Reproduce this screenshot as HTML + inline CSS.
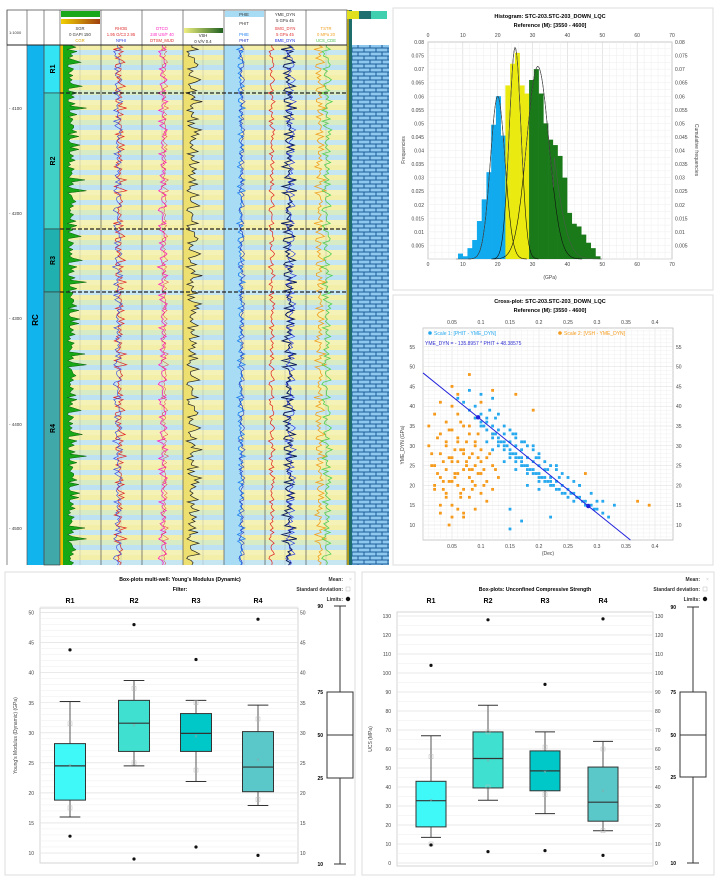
<!DOCTYPE html>
<html><head><meta charset="utf-8">
<style>
html,body{margin:0;padding:0;background:#fff;}
svg{display:block;font-family:"Liberation Sans",sans-serif;}
</style></head>
<body>
<svg id="root" width="720" height="877" viewBox="0 0 720 877" xmlns="http://www.w3.org/2000/svg">
<defs>
<pattern id="brick" width="12" height="8" patternUnits="userSpaceOnUse">
<rect width="12" height="8" fill="#8ec8ee"/>
<path d="M0 0H12M0 4H12M0 8H12M4 0V4M10 4V8" stroke="#1d5c9a" stroke-width="1" fill="none"/>
</pattern>
<linearGradient id="grBar" x1="0" x2="1"><stop offset="0" stop-color="#f0d000"/><stop offset="1" stop-color="#a04010"/></linearGradient>
<linearGradient id="vshBar" x1="0" x2="1"><stop offset="0" stop-color="#f0f080"/><stop offset="1" stop-color="#206020"/></linearGradient>
</defs>
<g id="log"></g>
<g id="hist"></g>
<g id="xplot"></g>
<g id="boxL"></g>
<g id="boxR"></g>
</svg>
<script>
// ---------- data ----------
const histBlueStart = 8.6, histBinW = 1.36;
const histBlue = [0.002,0.001,0.004,0.007,0.014,0.022,0.032,0.0495,0.06,0.0455];
const histYellow = [0.064,0.072,0.076,0.064,0.061];
const histGreen = [0.066,0.07,0.061,0.05,0.044,0.042,0.038,0.03,0.017,0.013,0.012,0.009,0.006,0.004,0.001];
const fitMeans = [20,25,31.5];
const fitSds = [2.1,1.7,3.2];
const fitPeaks = [0.06,0.078,0.071];
const histXTicks = [0,10,20,30,40,50,60,70];
const histYTicks = [0.005,0.01,0.015,0.02,0.025,0.03,0.035,0.04,0.045,0.05,0.055,0.06,0.065,0.07,0.075,0.08];

const scatBlueX = [0.06,0.07,0.08,0.09,0.09,0.1,0.1,0.1,0.11,0.11,0.11,0.12,0.12,0.12,0.13,0.13,0.13,0.13,0.14,0.14,0.14,0.14,0.15,0.15,0.15,0.15,0.16,0.16,0.16,0.16,0.17,0.17,0.17,0.17,0.18,0.18,0.18,0.18,0.19,0.19,0.19,0.2,0.2,0.2,0.2,0.21,0.21,0.21,0.22,0.22,0.22,0.23,0.23,0.24,0.24,0.25,0.25,0.26,0.26,0.27,0.28,0.28,0.29,0.3,0.31,0.32,0.33,0.12,0.1,0.08,0.15,0.17,0.15,0.22,0.2,0.19,0.13,0.14,0.16,0.12,0.11,0.23,0.25,0.27,0.3,0.105,0.125,0.135,0.145,0.155,0.165,0.175,0.185,0.195,0.205,0.215,0.225,0.235,0.245,0.255,0.265,0.275,0.285,0.295,0.115,0.125,0.14,0.15,0.16,0.17,0.18,0.19,0.2,0.21,0.22,0.23,0.24,0.26,0.27,0.29,0.31,0.155,0.175,0.195,0.215,0.235,0.18,0.2,0.16];
const scatBlueY = [42,41,39,40,37,38,36,35,37,34,36,35,33,32,34,32,31,30,33,31,29,30,31,29,28,27,30,28,27,26,29,27,26,25,27,25,24,23,26,24,23,25,23,22,21,24,22,21,22,20,21,21,19,20,18,19,17,18,16,17,16,15,15,14,13,12,15,42,43,44,14,11,9,12,19,30,38,26,32,29,31,25,22,20,16,35,33,31,30,28,27,25,24,23,22,21,20,19,18,18,17,16,15,14,39,37,35,34,33,31,30,29,28,26,25,24,23,21,20,18,16,33,31,27,24,22,20,27,24];
const scatOrangeX = [0.01,0.02,0.02,0.03,0.03,0.03,0.04,0.04,0.04,0.04,0.05,0.05,0.05,0.05,0.05,0.06,0.06,0.06,0.06,0.06,0.07,0.07,0.07,0.07,0.07,0.08,0.08,0.08,0.08,0.09,0.09,0.09,0.1,0.1,0.1,0.11,0.11,0.12,0.12,0.13,0.01,0.02,0.03,0.04,0.05,0.06,0.07,0.08,0.09,0.1,0.015,0.025,0.035,0.045,0.055,0.065,0.075,0.085,0.095,0.105,0.03,0.05,0.07,0.09,0.11,0.04,0.06,0.08,0.1,0.12,0.16,0.19,0.37,0.39,0.28,0.02,0.05,0.08,0.03,0.06,0.09,0.12,0.045,0.065,0.085,0.025,0.035,0.045,0.055,0.065,0.075,0.085,0.095,0.035,0.055,0.075,0.095,0.015,0.045,0.065,0.085,0.105,0.115,0.125];
const scatOrangeY = [30,25,20,33,28,22,36,30,24,18,40,34,27,21,15,38,31,26,20,14,35,29,24,19,13,33,27,22,17,31,25,20,29,23,18,27,21,25,19,22,35,38,41,31,26,32,28,24,30,26,28,23,19,27,22,29,25,21,33,24,15,12,12,14,16,17,23,35,41,44,43,39,16,15,23,19,45,48,13,43,37,33,10,17,24,32,26,34,29,36,31,28,27,21,23,26,23,25,21,18,19,20,28,24,22];
const regSlopeVis = -118, regIntercept = 48.4;
const xpXTicks = [0.05,0.1,0.15,0.2,0.25,0.3,0.35,0.4];
const xpYTicks = [10,15,20,25,30,35,40,45,50,55];

const zoneNames = ["R1","R2","R3","R4"];
const ymeWhiskLo = [16,24.5,21.9,17.9], ymeQ1 = [18.8,26.9,26.9,20.2], ymeMed = [24.5,31.6,29.9,24.3], ymeQ3 = [28.2,35.4,33.2,30.2], ymeWhiskHi = [35.2,38.7,35.4,34.6];
const ymeOutHi = [43.8,48,42.2,48.9], ymeOutLo = [12.8,9,11,9.6], ymeMean = [24.6,31.2,29.4,25.5], ymeSdHi = [31.5,37.4,35,32.3], ymeSdLo = [17.5,25,23.8,18.9];
const ucsWhiskLo = [13.5,33,26,17], ucsQ1 = [19,39.5,38,22], ucsMed = [32.8,55,48.5,32], ucsQ3 = [43,69,59,50.5], ucsWhiskHi = [67,83,69,64];
const ucsOutHi = [104,128,94,128.5], ucsOutLo = [9.5,6,6.5,4], ucsMean = [33,54,48,38], ucsSdHi = [56,69,61,60], ucsSdLo = [10,40,36,17];
const boxColors = ["#3ff8f8","#40e0d0","#00c8c8","#5ac8c8"];

const logA = [.3,.5,.2,.6,.4,.7,.3,.5,.8,.4,.2,.6,.5,.3,.7,.4,.6,.2,.5,.9,.4,.3,.6,.5,.7,.2,.4,.6,.3,.8,.5,.4,.6,.2,.5,.7,.3,.6,.4,.5,.8,.3,.6,.4,.2,.5,.7,.4,.6,.3,.5,.8,.4,.6,.3,.5,.2,.7,.4,.6,.5,.3,.7,.4,.6,.2,.5,.8,.3,.6,.4,.5,.7,.3,.6,.4,.5,.2,.6,.4];
const logB = [.6,.4,.7,.3,.5,.2,.6,.8,.4,.5,.7,.3,.6,.4,.2,.5,.8,.6,.3,.5,.4,.7,.2,.6,.5,.3,.8,.4,.5,.6,.3,.7,.4,.5,.9,.3,.6,.2,.5,.7,.4,.6,.3,.8,.5,.4,.6,.3,.5,.7,.2,.6,.4,.5,.8,.3,.6,.5,.4,.7,.3,.5,.6,.2,.7,.4,.5,.3,.6,.8,.4,.5,.3,.6,.7,.4,.2,.5,.6,.4];
const zoneTops = [45,93,229,292], zoneBottoms = [93,229,292,565];
const zoneColors = ["#33e4f4","#40d0c8","#20b0b0","#40a8a8"];
const depthLabels = ["4100","4200","4300","4400","4500"];
const depthYs = [108,213,318,424,528];

// ---------- helpers ----------
const NS="http://www.w3.org/2000/svg";
function mk(parent,tag,attrs,text){const e=document.createElementNS(NS,tag);for(const k in attrs)e.setAttribute(k,attrs[k]);if(text!==undefined)e.textContent=text;parent.appendChild(e);return e;}

// ---------- well log ----------
(function(){
const g=document.getElementById('log');
const top=45,bot=565;
const hdr=mk(g,'rect',{x:7,y:10,width:340,height:35,fill:'#fff',stroke:'#555','stroke-width':0.8});


mk(g,'text',{x:9,y:34,'font-size':4,fill:'#333'},'1:1000');
const stripeCols=['#f3efa8','#c6e6f2','#f3efa8','#d6ebc6','#bfe2f2','#f5f2b8'];
for(let y=top,i=0;y<bot;y+=5,i++){
  const s=mk(g,'rect',{x:60,y:y,width:287,height:5,fill:stripeCols[i%stripeCols.length]});
  
  
}
mk(g,'rect',{x:7,y:top,width:21,height:bot-top,fill:'#fff'});
depthLabels.forEach((d,i)=>{
  const t=mk(g,'text',{x:9,y:depthYs[i]+2,'font-size':4.5,fill:'#333'},'- '+d);
  
  
});
const rc=mk(g,'rect',{x:27,y:top,width:17,height:bot-top,fill:'#12b4ee'});


mk(g,'text',{x:0,y:0,'font-size':8,'font-weight':'bold',transform:'translate(38,320) rotate(-90)','text-anchor':'middle'},'RC');
zoneNames.forEach((z,i)=>{
  const r=mk(g,'rect',{x:44,y:zoneTops[i],width:16,height:zoneBottoms[i]-zoneTops[i],fill:zoneColors[i],stroke:'#333','stroke-width':0.6});
  
  
  const cy=(zoneTops[i]+zoneBottoms[i])/2;
  mk(g,'text',{x:0,y:0,'font-size':7,'font-weight':'bold',transform:`translate(55,${cy}) rotate(-90)`,'text-anchor':'middle'},z);
});
// build dense sequences from the two arrays
const N=logA.length*3;
const sA=i=>logA[i%logA.length]*0.6+logB[(i*7)%logB.length]*0.4;
const sB=i=>logB[i%logB.length]*0.6+logA[(i*11)%logA.length]*0.4;
const step=(bot-top)/(N-1);
const Y=i=>top+i*step;
function poly(fx,color,w,name){
  let pts=[];for(let i=0;i<N;i++)pts.push(fx(i).toFixed(1)+','+Y(i).toFixed(1));
  const p=mk(g,'polyline',{points:pts.join(' '),fill:'none',stroke:color,'stroke-width':w});
  
  
}
function fill(x0,fx,color,name){
  let pts=[x0+','+top];for(let i=0;i<N;i++)pts.push(fx(i).toFixed(1)+','+Y(i).toFixed(1));pts.push(x0+','+bot);
  const p=mk(g,'polygon',{points:pts.join(' '),fill:color});
  
  
}
// GR
mk(g,'rect',{x:60,y:top,width:4,height:bot-top,fill:'#e8c000'});
const grx=i=>{const v=sA(i);return 64+v*v*v*38+3;};
fill(63,grx,'#16a816','gr-fill');
poly(grx,'#0a5a0a',0.5,'gr-curve');
// RHOB
poly(i=>120+(sA(i)-.5)*22,'#e02020',0.7,'rhob-curve');
poly(i=>118+(sB(i)-.5)*18,'#3040e0',0.6,'nphi-curve');
// DT
poly(i=>163+(sB(i)-.5)*18,'#ff20c0',0.8,'dtco-curve');
poly(i=>165+(sA(i)-.5)*12,'#e03030',0.5,'dtsm-curve');
// VSH
const vx=i=>185+sB(i)*sB(i)*30;
fill(183,vx,'#eee070','vsh-fill');
poly(vx,'#222',0.7,'vsh-curve');
// PHIE
mk(g,'rect',{x:224,y:top,width:16,height:bot-top,fill:'#a8dcf4'});
fill(224,i=>234+sA(i)*14,'#a8dcf4','phie-fill');
poly(i=>234+sA(i)*14,'#2080f0',0.8,'phie-curve');
poly(i=>236+sB(i)*12,'#2030c0',0.6,'phit-curve');
// YME
poly(i=>272+(sB(i)-.5)*12,'#e02020',0.7,'smg-curve');
poly(i=>289+(sA(i)-.5)*26,'#0a1a5a',1,'yme-curve');
poly(i=>291+(sB(i)-.5)*20,'#2030e0',0.6,'bme-curve');
// TSTR / UCS
poly(i=>320+(sA(i)-.5)*20,'#f0a020',0.8,'tstr-curve');
poly(i=>327+(sB(i)-.5)*20,'#50d050',0.8,'ucs-curve');
[7,27,44,60,101,142,183,224,265,306,347].forEach(x=>{
  mk(g,'line',{x1:x,y1:10,x2:x,y2:bot,stroke:'#555','stroke-width':0.7});
});
[80,121,162,203,244,285,326].forEach(x=>mk(g,'line',{x1:x,y1:top,x2:x,y2:bot,stroke:'#999','stroke-width':0.3}));
mk(g,'line',{x1:7,y1:top,x2:352,y2:top,stroke:'#222','stroke-width':1});
[93,229,292].forEach(y=>mk(g,'line',{x1:60,y1:y,x2:390,y2:y,stroke:'#222','stroke-width':1.2,'stroke-dasharray':'4,2'}));
mk(g,'rect',{x:347,y:10,width:5,height:bot-10,fill:'#a89a20'});
mk(g,'rect',{x:349,y:10,width:3,height:bot-10,fill:'#1e6e6e'});
const br=mk(g,'rect',{x:352,y:45,width:37,height:bot-45,fill:'url(#brick)'});


mk(g,'rect',{x:61,y:11,width:39,height:6,fill:'#1aa81a'});
mk(g,'rect',{x:61,y:19,width:39,height:5,fill:'url(#grBar)'});
mk(g,'rect',{x:184,y:28,width:39,height:5,fill:'url(#vshBar)'});
mk(g,'rect',{x:225,y:11,width:39,height:6,fill:'#a8dcf4'});
mk(g,'rect',{x:347,y:11,width:12,height:8,fill:'#e0e020'});
mk(g,'rect',{x:359,y:11,width:12,height:8,fill:'#1e7070'});
mk(g,'rect',{x:371,y:11,width:16,height:8,fill:'#40d0b0'});
const hl=[[80,30,'SGR','#333'],[80,36,'0 GAPI 150','#333'],[80,42,'CGR','#e0a000'],[121,30,'RHOB','#e03030'],[121,36,'1.95 G/C3 2.95','#e03030'],[121,42,'NPHI','#3040e0'],[162,30,'DTCO','#ff20c0'],[162,36,'240 US/F 40','#ff20c0'],[162,42,'DTSM_MUD','#e03030'],[203,37,'VSH','#222'],[203,43,'0 V/V 0.4','#222'],[244,16,'PHIE','#333'],[244,25,'PHIT','#333'],[244,36,'PHIE','#2080f0'],[244,42,'PHIT','#2030c0'],[285,16,'YME_DYN','#333'],[285,22,'5 GPa 45','#333'],[285,30,'SMG_DYN','#e03030'],[285,36,'5 GPa 45','#e03030'],[285,42,'BME_DYN','#2030e0'],[326,30,'TSTR','#f0a020'],[326,36,'0 MPa 20','#f0a020'],[326,42,'UCS_CDE','#50c050']];
hl.forEach(h=>{const t=mk(g,'text',{x:h[0],y:h[1],'font-size':4.2,fill:h[3],'text-anchor':'middle'},h[2]);
 
 });
})();

function frame(g,x,y,w,h){mk(g,'rect',{x:x,y:y,width:w,height:h,fill:'#fff',stroke:'#ddd','stroke-width':1});}

// ---------- histogram ----------
(function(){
const g=document.getElementById('hist');
frame(g,393,8,320,282);
const L=428,R=672,T=42,B=259;
const hx=v=>L+v*(R-L)/70, hy=f=>B-f*(B-T)/0.08;
mk(g,'rect',{x:L,y:T,width:R-L,height:B-T,fill:'#fff',stroke:'#bbb','stroke-width':0.8});
for(let v=0;v<=70;v+=2)mk(g,'line',{x1:hx(v),y1:T,x2:hx(v),y2:B,stroke:v%10?'#eee':'#ccc','stroke-width':0.5});
for(let f=0;f<=0.08;f+=0.0025)mk(g,'line',{x1:L,y1:hy(f),x2:R,y2:hy(f),stroke:'#eee','stroke-width':0.5});
histXTicks.forEach(v=>{
 mk(g,'text',{x:hx(v),y:37,'font-size':5,'text-anchor':'middle',fill:'#444'},v);
 mk(g,'text',{x:hx(v),y:266,'font-size':5,'text-anchor':'middle',fill:'#444'},v);
});
histYTicks.forEach(f=>{
 mk(g,'text',{x:L-4,y:hy(f)+2,'font-size':5,'text-anchor':'end',fill:'#444'},String(f));
 mk(g,'text',{x:R+3,y:hy(f)+2,'font-size':5,fill:'#444'},String(f));
});
function bars(arr,start,color,name){
 arr.forEach((f,i)=>{const x0=hx(start+i*histBinW),x1=hx(start+(i+1)*histBinW);
  const r=mk(g,'rect',{x:x0,y:hy(f),width:x1-x0+0.3,height:B-hy(f),fill:color});
  
  });
}
const yStart=histBlueStart+histBlue.length*histBinW;
const gStart=yStart+histYellow.length*histBinW;
bars(histBlue,histBlueStart,'#12aaee','hist-bar-blue');
bars(histYellow,yStart,'#eaea10','hist-bar-yellow');
bars(histGreen,gStart,'#1a7a1a','hist-bar-green');
const gauss=(k,v)=>fitPeaks[k]*Math.exp(-Math.pow(v-fitMeans[k],2)/(2*fitSds[k]*fitSds[k]));
for(let k=0;k<3;k++){let p=[];for(let v=fitMeans[k]-4*fitSds[k];v<=fitMeans[k]+4*fitSds[k];v+=0.25)p.push(hx(v).toFixed(1)+','+hy(gauss(k,v)).toFixed(1));
 const c=mk(g,'polyline',{points:p.join(' '),fill:'none',stroke:'#111','stroke-width':0.6});
 
 }
let p=[];for(let v=8;v<=50;v+=0.25){p.push(hx(v).toFixed(1)+','+hy(Math.max(gauss(0,v),gauss(1,v),gauss(2,v),v>36?0.071*Math.exp(-(v-31.5)*(v-31.5)/(2*4.2*4.2)):0)).toFixed(1));}
mk(g,'polyline',{points:p.join(' '),fill:'none',stroke:'#555','stroke-width':0.5});
mk(g,'text',{x:550,y:18,'font-size':5.5,'font-weight':'bold','text-anchor':'middle'},'Histogram: STC-203.STC-203_DOWN_LQC');
mk(g,'text',{x:550,y:27,'font-size':5.5,'font-weight':'bold','text-anchor':'middle'},'Reference (M): [3550 - 4600]');
mk(g,'text',{x:550,y:279,'font-size':5,'text-anchor':'middle',fill:'#444'},'(GPa)');
mk(g,'text',{x:0,y:0,'font-size':5,transform:'translate(405,150) rotate(-90)','text-anchor':'middle',fill:'#444'},'Frequencies');
mk(g,'text',{x:0,y:0,'font-size':5,transform:'translate(695,150) rotate(90)','text-anchor':'middle',fill:'#444'},'Cumulative frequencies');
})();

// ---------- crossplot ----------
(function(){
const g=document.getElementById('xplot');
frame(g,393,295,320,270);
const L=423,R=673,T=328,B=540;
const cx=v=>L+v*580, cy=v=>525-(v-10)*3.96;
mk(g,'rect',{x:L,y:T,width:R-L,height:B-T,fill:'#fff',stroke:'#bbb','stroke-width':0.8});
for(let v=0;v<=0.43;v+=0.01)mk(g,'line',{x1:cx(v),y1:T,x2:cx(v),y2:B,stroke:Math.round(v*100)%5?'#f0f0f0':'#ddd','stroke-width':0.5});
for(let v=7;v<=59;v+=1)mk(g,'line',{x1:L,y1:cy(v),x2:R,y2:cy(v),stroke:v%5?'#f0f0f0':'#ddd','stroke-width':0.5});
xpXTicks.forEach(v=>{mk(g,'text',{x:cx(v),y:324,'font-size':5,'text-anchor':'middle',fill:'#444'},v);
 mk(g,'text',{x:cx(v),y:548,'font-size':5,'text-anchor':'middle',fill:'#444'},v);});
xpYTicks.forEach(v=>{mk(g,'text',{x:L-8,y:cy(v)+2,'font-size':5,'text-anchor':'end',fill:'#444'},v);
 mk(g,'text',{x:R+3,y:cy(v)+2,'font-size':5,fill:'#444'},v);});
scatOrangeX.forEach((x,i)=>{const r=mk(g,'rect',{x:cx(x)-1.4,y:cy(scatOrangeY[i])-1.4,width:2.8,height:2.8,fill:'#f59a1a'});
 
 });
scatBlueX.forEach((x,i)=>{const r=mk(g,'rect',{x:cx(x)-1.4,y:cy(scatBlueY[i])-1.4,width:2.8,height:2.8,fill:'#26a8ee'});
 
 });
const x2=(6.2-regIntercept)/regSlopeVis;
const ln=mk(g,'line',{x1:cx(0),y1:cy(regIntercept),x2:cx(x2),y2:cy(6.2),stroke:'#2222dd','stroke-width':1});


mk(g,'circle',{cx:cx(0.095),cy:cy(regIntercept+regSlopeVis*0.095),r:2.2,fill:'#2222dd'});
mk(g,'circle',{cx:cx(0.285),cy:cy(regIntercept+regSlopeVis*0.285),r:2.2,fill:'#2222dd'});
mk(g,'circle',{cx:430,cy:333,r:1.8,fill:'#26a8ee'});
mk(g,'text',{x:434,y:335,'font-size':5,fill:'#26a8ee'},'Scale 1:  [PHIT - YME_DYN]');
mk(g,'circle',{cx:560,cy:333,r:1.8,fill:'#f59a1a'});
mk(g,'text',{x:564,y:335,'font-size':5,fill:'#f59a1a'},'Scale 2:  [VSH - YME_DYN]');
mk(g,'text',{x:425,y:345,'font-size':5,fill:'#3030d0'},'YME_DYN = - 135.8957 * PHIT + 48.38575');
mk(g,'text',{x:550,y:303,'font-size':5.5,'font-weight':'bold','text-anchor':'middle'},'Cross-plot: STC-203.STC-203_DOWN_LQC');
mk(g,'text',{x:550,y:312,'font-size':5.5,'font-weight':'bold','text-anchor':'middle'},'Reference (M): [3550 - 4600]');
mk(g,'text',{x:548,y:555,'font-size':5,'text-anchor':'middle',fill:'#444'},'(Dec)');
mk(g,'text',{x:0,y:0,'font-size':5,transform:'translate(404,445) rotate(-90)','text-anchor':'middle',fill:'#444'},'YME_DYN (GPa)');
})();

// ---------- boxplots ----------
function boxPanel(id,o){
const g=document.getElementById(id);
frame(g,o.fx,o.fy,o.fw,o.fh);
const Y=o.Y;
mk(g,'rect',{x:o.L,y:o.T,width:o.R-o.L,height:o.B-o.T,fill:'#fff',stroke:'#ccc','stroke-width':0.8});
o.minor.forEach(v=>mk(g,'line',{x1:o.L,y1:Y(v),x2:o.R,y2:Y(v),stroke:'#eee','stroke-width':0.5}));
o.ticks.forEach(v=>{mk(g,'line',{x1:o.L,y1:Y(v),x2:o.R,y2:Y(v),stroke:'#ddd','stroke-width':0.6});
 mk(g,'text',{x:o.L-6,y:Y(v)+2,'font-size':5,'text-anchor':'end',fill:'#444'},v);
 mk(g,'text',{x:o.R+2,y:Y(v)+2,'font-size':5,fill:'#444'},v);});
const d=o.d, w=o.bw;
zoneNames.forEach((z,i)=>{
 const c=o.cx[i];
 mk(g,'text',{x:c,y:o.lblY,'font-size':7,'font-weight':'bold','text-anchor':'middle'},z);
 mk(g,'line',{x1:c,y1:Y(d.wl[i]),x2:c,y2:Y(d.wh[i]),stroke:'#555','stroke-width':1});
 mk(g,'line',{x1:c-w/3,y1:Y(d.wl[i]),x2:c+w/3,y2:Y(d.wl[i]),stroke:'#333','stroke-width':1});
 mk(g,'line',{x1:c-w/3,y1:Y(d.wh[i]),x2:c+w/3,y2:Y(d.wh[i]),stroke:'#333','stroke-width':1});
 const b=mk(g,'rect',{x:c-w/2,y:Y(d.q3[i]),width:w,height:Y(d.q1[i])-Y(d.q3[i]),fill:boxColors[i],stroke:'#333','stroke-width':1});
 
 
 mk(g,'line',{x1:c-w/2,y1:Y(d.med[i]),x2:c+w/2,y2:Y(d.med[i]),stroke:'#333','stroke-width':1.2});
 mk(g,'text',{x:c,y:Y(d.mean[i])+2,'font-size':6,'text-anchor':'middle',fill:'#8aa'},'×');
 [d.sh[i],d.sl[i]].forEach(v=>mk(g,'rect',{x:c-2,y:Y(v)-2,width:4,height:4,fill:'none',stroke:'#bbb','stroke-width':0.5}));
 [d.oh[i],d.ol[i]].forEach(v=>{const p=mk(g,'circle',{cx:c,cy:Y(v),r:1.6,fill:'#111'});
  
  });
});
const lx=o.legX, lb=o.legBox;
mk(g,'line',{x1:lx,y1:lb[0],x2:lx,y2:lb[4],stroke:'#333','stroke-width':1});
mk(g,'line',{x1:lx-6,y1:lb[0],x2:lx+6,y2:lb[0],stroke:'#333'});
mk(g,'line',{x1:lx-6,y1:lb[4],x2:lx+6,y2:lb[4],stroke:'#333'});
const lr=mk(g,'rect',{x:lx-13,y:lb[1],width:26,height:lb[3]-lb[1],fill:'#fff',stroke:'#333','stroke-width':1});


mk(g,'line',{x1:lx-13,y1:lb[2],x2:lx+13,y2:lb[2],stroke:'#333'});
['90','75','50','25','10'].forEach((t,i)=>mk(g,'text',{x:lx-17,y:lb[i]+2,'font-size':5,'font-weight':'bold','text-anchor':'end'},t));
const rx=o.legTextX;
mk(g,'text',{x:rx,y:o.fy+9,'font-size':5,'font-weight':'bold','text-anchor':'end',fill:'#333'},'Mean:');
mk(g,'text',{x:rx+6,y:o.fy+9,'font-size':5,fill:'#ccc'},'×');
mk(g,'text',{x:rx,y:o.fy+19,'font-size':5,'font-weight':'bold','text-anchor':'end',fill:'#333'},'Standard deviation:');
mk(g,'rect',{x:rx+3,y:o.fy+15,width:4,height:4,fill:'none',stroke:'#bbb','stroke-width':0.5});
mk(g,'text',{x:rx,y:o.fy+29,'font-size':5,'font-weight':'bold','text-anchor':'end',fill:'#333'},'Limits:');
mk(g,'circle',{cx:rx+5,cy:o.fy+27,r:2.2,fill:'#111'});
o.titles.forEach(t=>mk(g,'text',{x:t[0],y:t[1],'font-size':5.2,'font-weight':'bold','text-anchor':'middle'},t[2]));
mk(g,'text',{x:0,y:0,'font-size':5,transform:`translate(${o.ytx},${(o.T+o.B)/2}) rotate(-90)`,'text-anchor':'middle',fill:'#444'},o.ytitle);
}
const minorL=[];for(let v=10;v<=51;v+=1)minorL.push(v);
boxPanel('boxL',{fx:5,fy:572,fw:350,fh:303,L:40,R:298,T:608,B:863,Y:v=>853-(v-10)*6.01,
 ticks:[10,15,20,25,30,35,40,45,50],minor:minorL,cx:[70,134,196,258],bw:31,lblY:603,
 d:{wl:ymeWhiskLo,q1:ymeQ1,med:ymeMed,q3:ymeQ3,wh:ymeWhiskHi,oh:ymeOutHi,ol:ymeOutLo,mean:ymeMean,sh:ymeSdHi,sl:ymeSdLo},
 legX:340,legBox:[606,692,735,778,864],legTextX:343,
 titles:[[180,581,"Box-plots multi-well: Young's Modulus (Dynamic)"],[180,591,'Filter:']],ytx:17,ytitle:"Young's Modulus (Dynamic) (GPa)"});
const minorR=[];for(let v=0;v<=132;v+=5)minorR.push(v);
boxPanel('boxR',{fx:362,fy:572,fw:352,fh:303,L:397,R:653,T:612,B:866,Y:v=>863-v*1.9,
 ticks:[0,10,20,30,40,50,60,70,80,90,100,110,120,130],minor:minorR,cx:[431,488,545,603],bw:30,lblY:603,
 d:{wl:ucsWhiskLo,q1:ucsQ1,med:ucsMed,q3:ucsQ3,wh:ucsWhiskHi,oh:ucsOutHi,ol:ucsOutLo,mean:ucsMean,sh:ucsSdHi,sl:ucsSdLo},
 legX:693,legBox:[607,692,735,777,863],legTextX:700,
 titles:[[535,591,'Box-plots: Unconfined Compressive Strength']],ytx:372,ytitle:'UCS (MPa)'});
</script>
</body></html>
